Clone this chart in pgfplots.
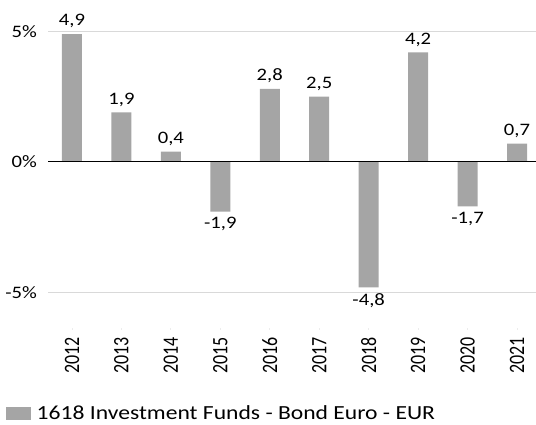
\documentclass[border=0pt]{standalone}
\usepackage{fontspec}
\setmainfont{Carlito}[FakeStretch=1.18]
\newfontfamily\rotfont{Carlito}
\usepackage{pgfplots}
\pgfplotsset{compat=1.18}
\definecolor{bargray}{HTML}{A5A5A5}
\definecolor{gridgray}{HTML}{D9D9D9}
\newcommand\yl[1]{\scalebox{1}[1.22]{\rotfont\fontsize{18}{21}\selectfont #1}}
\begin{document}
\fontsize{17.5}{21}\selectfont
\begin{tikzpicture}
\useasboundingbox (0pt,0pt) rectangle (536pt,425pt);
\begin{axis}[
  at={(48pt,97pt)}, anchor=south west,
  scale only axis, width=488pt, height=328pt,
  xmin=-0.485, xmax=9.384, ymin=-6.36, ymax=6.207,
  ybar, bar width=20pt,
  axis line style={draw=none},
  ytick={-5,0,5}, yticklabels={-5\%,0\%,5\%},
  ymajorgrids, grid style={color=gridgray, line width=1pt},
  xtick={0,...,9},
  xticklabels={\yl{2012},\yl{2013},\yl{2014},\yl{2015},\yl{2016},\yl{2017},\yl{2018},\yl{2019},\yl{2020},\yl{2021}},
  xtick pos=bottom, ytick pos=left,
  tick align=outside,
  x tick style={color=gray!15, line width=0.8pt}, y tick style={draw=none},
  major tick length=2pt,
  xticklabel style={rotate=90, anchor=east, inner sep=0pt, xshift=-7pt},
  yticklabel style={anchor=east, inner sep=0pt, xshift=-9pt},
  /pgf/number format/assume math mode=true,
  tick label style={font=\fontsize{17.5}{21}\selectfont},
  nodes near coords,
  nodes near coords style={font=\fontsize{17.5}{21}\selectfont, /pgf/number format/.cd, fixed, fixed zerofill, precision=1, use comma, assume math mode=true},
  legend style={at={(-0.086,-0.262)}, anchor=west, draw=none, fill=none, inner sep=0pt, column sep=4.5pt, font=\fontsize{20}{24}\selectfont, nodes={inner sep=1pt}},
  legend cell align=left,
  legend image code/.code={\fill[#1] (0pt,-6.5pt) rectangle (25pt,6.5pt);},
]
\addplot[fill=bargray, draw=none] coordinates {
(0,4.9) (1,1.9) (2,0.4) (3,-1.9) (4,2.8) (5,2.5) (6,-4.8) (7,4.2) (8,-1.7) (9,0.7)};
\addlegendentry{1618 Investment Funds - Bond Euro - EUR}
\draw[black, line width=1pt] (axis cs:-0.485,0) -- (axis cs:9.384,0);
\end{axis}
\end{tikzpicture}
\end{document}
